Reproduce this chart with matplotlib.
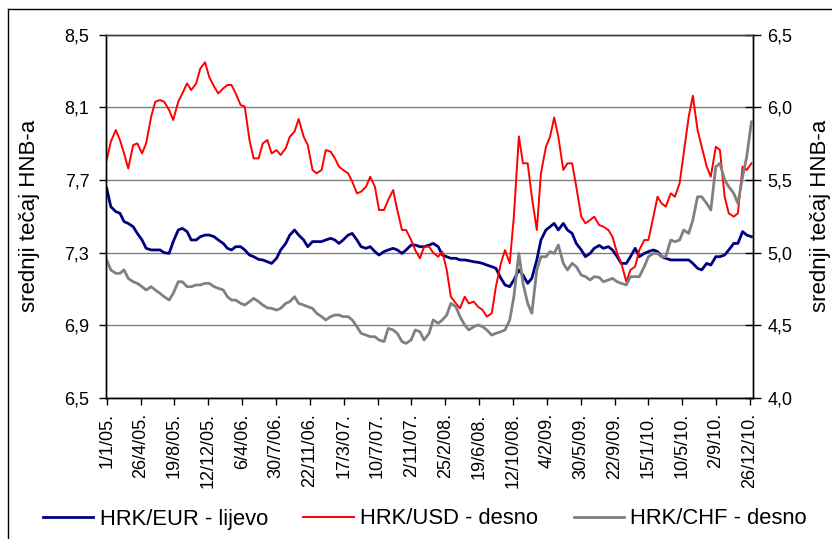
import numpy as np
import pandas as pd
import matplotlib
matplotlib.use('Agg')
import matplotlib.pyplot as plt
from matplotlib.lines import Line2D

plt.rcParams['font.family'] = ['Liberation Sans', 'DejaVu Sans']

# semi-monthly readings (1st and 15th), last one 31/12/2010
dates = list(pd.date_range('2005-01-01', '2010-12-15', freq='SMS')) + [pd.Timestamp('2010-12-31')]

# HRK/EUR - left axis
eur = [7.654, 7.553, 7.526, 7.517, 7.471, 7.461, 7.443, 7.406, 7.370, 7.324, 7.315, 7.315,
       7.315, 7.300, 7.296, 7.361, 7.425, 7.434, 7.416, 7.370, 7.370, 7.388, 7.397, 7.397,
       7.388, 7.370, 7.351, 7.324, 7.315, 7.333, 7.333, 7.315, 7.287, 7.278, 7.263, 7.260,
       7.250, 7.241, 7.269, 7.315, 7.351, 7.397, 7.425, 7.397, 7.370, 7.333, 7.361, 7.361,
       7.361, 7.370, 7.379, 7.370, 7.351, 7.370, 7.397, 7.406, 7.370, 7.333, 7.324, 7.333,
       7.306, 7.287, 7.306, 7.315, 7.324, 7.315, 7.296, 7.315, 7.342, 7.342, 7.333, 7.333,
       7.342, 7.351, 7.333, 7.287, 7.278, 7.269, 7.269, 7.260, 7.260, 7.256, 7.250, 7.247,
       7.241, 7.232, 7.223, 7.214, 7.159, 7.122, 7.113, 7.150, 7.205, 7.177, 7.131, 7.159,
       7.260, 7.370, 7.425, 7.443, 7.461, 7.425, 7.461, 7.425, 7.406, 7.351, 7.315, 7.278,
       7.296, 7.324, 7.340, 7.324, 7.333, 7.315, 7.278, 7.241, 7.241, 7.278, 7.324, 7.278,
       7.296, 7.306, 7.315, 7.306, 7.278, 7.269, 7.260, 7.260, 7.260, 7.260, 7.260, 7.241,
       7.214, 7.205, 7.241, 7.232, 7.278, 7.278, 7.287, 7.315, 7.351, 7.351, 7.416, 7.397,
       7.388]

# HRK/USD - right axis
usd = [5.638, 5.764, 5.844, 5.775, 5.683, 5.580, 5.741, 5.752, 5.683, 5.752, 5.936, 6.039,
       6.050, 6.039, 5.982, 5.913, 6.039, 6.096, 6.165, 6.119, 6.165, 6.268, 6.310, 6.211,
       6.142, 6.096, 6.131, 6.154, 6.154, 6.096, 6.016, 6.005, 5.775, 5.649, 5.649, 5.752,
       5.775, 5.683, 5.706, 5.672, 5.718, 5.798, 5.833, 5.920, 5.798, 5.741, 5.569, 5.546,
       5.569, 5.706, 5.695, 5.649, 5.592, 5.569, 5.546, 5.489, 5.408, 5.420, 5.454, 5.523,
       5.454, 5.294, 5.294, 5.362, 5.431, 5.294, 5.156, 5.156, 5.087, 5.018, 4.961, 5.041,
       5.041, 5.000, 4.972, 5.007, 4.881, 4.697, 4.651, 4.617, 4.697, 4.651, 4.663, 4.628,
       4.605, 4.560, 4.583, 4.766, 4.927, 5.018, 4.927, 5.248, 5.800, 5.615, 5.615, 5.385,
       5.156, 5.546, 5.729, 5.798, 5.930, 5.798, 5.569, 5.615, 5.615, 5.454, 5.248, 5.202,
       5.225, 5.248, 5.190, 5.179, 5.156, 5.110, 4.995, 4.927, 4.800, 4.881, 4.904, 5.018,
       5.087, 5.087, 5.248, 5.385, 5.339, 5.317, 5.408, 5.385, 5.477, 5.683, 5.936, 6.080,
       5.844, 5.729, 5.592, 5.523, 5.729, 5.706, 5.385, 5.271, 5.248, 5.271, 5.592, 5.569,
       5.615]

# HRK/CHF - right axis
chf = [4.950, 4.881, 4.858, 4.858, 4.881, 4.823, 4.800, 4.789, 4.766, 4.743, 4.766, 4.743,
       4.720, 4.697, 4.674, 4.720, 4.800, 4.800, 4.766, 4.766, 4.778, 4.778, 4.789, 4.789,
       4.766, 4.755, 4.743, 4.697, 4.674, 4.674, 4.651, 4.640, 4.663, 4.686, 4.663, 4.640,
       4.620, 4.617, 4.605, 4.617, 4.651, 4.663, 4.697, 4.651, 4.640, 4.628, 4.617, 4.583,
       4.560, 4.537, 4.560, 4.571, 4.571, 4.560, 4.560, 4.537, 4.491, 4.445, 4.433, 4.422,
       4.422, 4.399, 4.388, 4.479, 4.468, 4.445, 4.388, 4.376, 4.399, 4.468, 4.456, 4.399,
       4.445, 4.537, 4.514, 4.537, 4.571, 4.651, 4.628, 4.560, 4.502, 4.468, 4.491, 4.502,
       4.491, 4.468, 4.433, 4.445, 4.456, 4.468, 4.537, 4.697, 4.995, 4.789, 4.651, 4.583,
       4.881, 4.972, 4.972, 5.007, 4.995, 5.053, 4.927, 4.881, 4.927, 4.904, 4.846, 4.835,
       4.812, 4.835, 4.830, 4.800, 4.812, 4.823, 4.800, 4.789, 4.778, 4.835, 4.835, 4.835,
       4.904, 4.972, 4.995, 4.995, 4.972, 4.972, 5.087, 5.076, 5.087, 5.156, 5.133, 5.225,
       5.385, 5.385, 5.339, 5.294, 5.592, 5.615, 5.500, 5.454, 5.408, 5.339, 5.523, 5.661,
       5.900]

left_ticks = [6.5, 6.9, 7.3, 7.7, 8.1, 8.5]
right_ticks = [4.0, 4.5, 5.0, 5.5, 6.0, 6.5]
x_ticks = pd.date_range('2005-01-01', periods=20, freq='115D')
x_labels = [f"{d.day}/{d.month}/{d:%y}." for d in x_ticks]

W, H = 832, 539
fig = plt.figure(figsize=(W / 100, H / 100), dpi=100)
ax = fig.add_axes([106 / W, 1 - 398 / H, (752.7 - 106) / W, (398 - 34.7) / H])
ax2 = ax.twinx()

l1, = ax.plot(dates, eur, color='#000080', lw=2.0)
l2, = ax2.plot(dates, usd, color='#ff0000', lw=1.4)
l3, = ax2.plot(dates, chf, color='#808080', lw=2.0)

t0 = pd.Timestamp('2005-01-01')
ax.set_xlim(t0 - pd.Timedelta(days=2.4), t0 + pd.Timedelta(days=2194.3))
ax.set_ylim(6.5, 8.5)
ax2.set_ylim(4.0, 6.5)

ax.set_yticks(left_ticks)
ax.set_yticklabels([f"{v:.1f}".replace('.', ',') for v in left_ticks])
ax2.set_yticks(right_ticks)
ax2.set_yticklabels([f"{v:.1f}".replace('.', ',') for v in right_ticks])
ax.set_xticks(x_ticks)
ax.set_xticklabels(x_labels, rotation=90)

ax.yaxis.grid(True, color='#808080', lw=1)
ax.set_axisbelow(True)

ax.tick_params(axis='y', direction='out', length=5, width=1, labelsize=13, pad=7)
ax.tick_params(axis='x', direction='out', length=5, width=1, labelsize=13, pad=6)
ax2.tick_params(axis='y', direction='inout', length=11, width=1, labelsize=13, pad=5)

for a in (ax, ax2):
    for s in a.spines.values():
        s.set_color('black')
        s.set_linewidth(1)
    a.spines['top'].set_color('#404040')

ax.set_ylabel('srednji tečaj HNB-a', fontsize=16)
ax.yaxis.set_label_coords(-0.102, 0.5)
ax2.set_ylabel('srednji tečaj HNB-a', fontsize=16, rotation=90)
ax2.yaxis.set_label_coords(1.088, 0.5)

fig.legend([l1, l2, l3], ['HRK/EUR - lijevo', 'HRK/USD - desno', 'HRK/CHF - desno'],
           loc='center left', bbox_to_anchor=(43 / W, 1 - 519 / H), ncol=3,
           frameon=False, fontsize=15.8, handlelength=2.3, handletextpad=0.28,
           columnspacing=1.62, borderpad=0, borderaxespad=0)

# outer chart frame (left and top edges visible)
fig.add_artist(Line2D([8 / W, 8 / W], [1 - 9 / H, 0], transform=fig.transFigure, color='black', lw=1))
fig.add_artist(Line2D([8 / W, 1], [1 - 9 / H, 1 - 9 / H], transform=fig.transFigure, color='black', lw=1))

fig.savefig('out.png', dpi=100)
